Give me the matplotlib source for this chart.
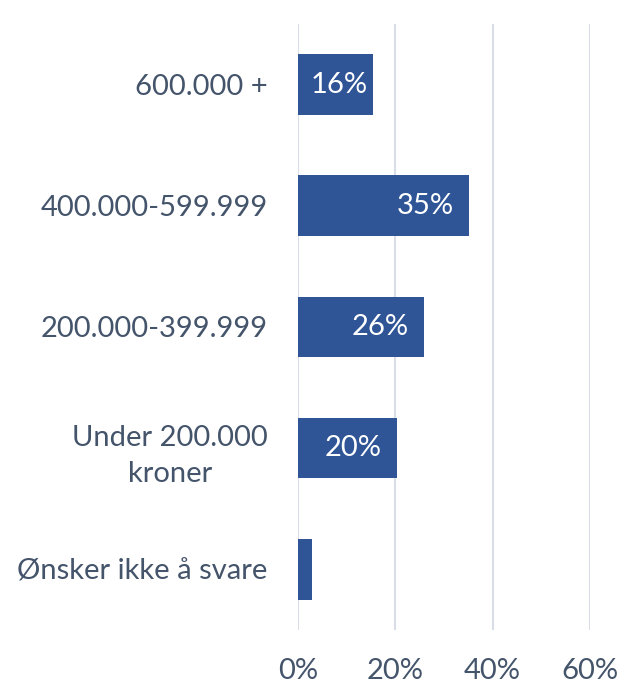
import matplotlib.pyplot as plt

categories = ['600.000 +', '400.000-599.999', '200.000-399.999',
              'Under 200.000\nkroner', 'Ønsker ikke å svare']
values = [15.5, 35.1, 25.8, 20.3, 2.9]
labels = ['16%', '35%', '26%', '20%', '']
ticks = [0, 20, 40, 60]
tick_labels = ['0%', '20%', '40%', '60%']

bar_color = '#2F5597'
text_color = '#44546A'

plt.rcParams['font.family'] = ['Lato', 'DejaVu Sans']

fig = plt.figure(figsize=(6.21, 6.83), dpi=100)
ax = fig.add_axes([0.48, 0.0776, 0.47, 0.8874])

pos = list(range(len(categories)))
bars = ax.barh(pos, values, height=0.5, color=bar_color, zorder=3)

for b, lab in zip(bars, labels):
    if lab:
        # short bars get a smaller inset so the label sits closer to the end
        off = -4 if b.get_width() < 18 else -11
        ax.annotate(lab, (b.get_width(), b.get_y() + b.get_height() / 2),
                    xytext=(off, 0), textcoords='offset points',
                    ha='right', va='center', color='white', fontsize=21)

ax.set_xlim(0, 60)
ax.set_ylim(len(categories) - 0.5, -0.5)
ax.set_yticks(pos)
ax.set_yticklabels(categories, fontsize=21, color=text_color,
                   multialignment='center', linespacing=1.5)
ax.tick_params(axis='y', length=0, pad=22)
ax.set_xticks(ticks)
ax.set_xticklabels(tick_labels, fontsize=21, color=text_color)
ax.tick_params(axis='x', length=0, pad=20)
ax.grid(axis='x', color='#D9DEE6', linewidth=1.5, zorder=0)
for s in ax.spines.values():
    s.set_visible(False)

fig.savefig('out.png', dpi=100)
